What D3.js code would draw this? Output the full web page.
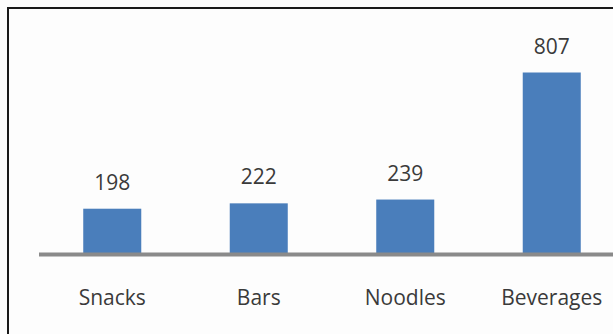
<!DOCTYPE html>
<html>
<head>
<meta charset="utf-8">
<script src="https://cdn.jsdelivr.net/npm/d3@7"></script>
<style>
html,body{margin:0;padding:0;background:#fff;overflow:hidden;}
svg{display:block;}
</style>
</head>
<body>
<script>
const categories = ["Snacks", "Bars", "Noodles", "Beverages"];
const values = [198, 222, 239, 807];

const W = 613, H = 334;
const svg = d3.select("body").append("svg").attr("width", W).attr("height", H);

svg.append("rect").attr("x", 0).attr("y", 0).attr("width", W).attr("height", H).attr("fill", "#fdfdfd");

// frame (top and left visible)
svg.append("line").attr("x1", 8).attr("x2", W).attr("y1", 8).attr("y2", 8)
  .attr("stroke", "#1a1a1a").attr("stroke-width", 2);
svg.append("line").attr("x1", 8).attr("x2", 8).attr("y1", 7).attr("y2", H)
  .attr("stroke", "#1a1a1a").attr("stroke-width", 2);

const x = d3.scaleBand().domain(categories).range([39, 625])
  .paddingInner(0.604).paddingOuter(0.302);
const y = d3.scaleLinear().domain([0, 807]).range([253, 72.5]);

const data = categories.map((c, i) => ({c, v: values[i]}));

svg.selectAll("rect.bar").data(data).enter().append("rect")
  .attr("class", "bar")
  .attr("x", d => x(d.c))
  .attr("width", x.bandwidth())
  .attr("y", d => y(d.v))
  .attr("height", d => y(0) - y(d.v))
  .attr("fill", "#4a7ebb");

// baseline axis
const axis = d3.axisBottom(x).tickSize(0).tickPadding(0);
const g = svg.append("g").attr("transform", "translate(0,254.5)").call(axis);
g.select(".domain").attr("stroke", "#8a8a8a").attr("stroke-width", 4)
  .attr("d", "M39,0H640");
g.selectAll(".tick text")
  .attr("y", 50).attr("dy", 0)
  .attr("font-family", "'Open Sans', sans-serif")
  .attr("font-size", 21)
  .attr("fill", "#3a3a3a");

svg.selectAll("text.val").data(data).enter().append("text")
  .attr("class", "val")
  .attr("x", d => x(d.c) + x.bandwidth() / 2)
  .attr("y", d => y(d.v) - 19)
  .attr("text-anchor", "middle")
  .attr("font-family", "'Open Sans', sans-serif")
  .attr("font-size", 21)
  .attr("fill", "#3a3a3a")
  .text(d => d.v);
</script>
</body>
</html>
